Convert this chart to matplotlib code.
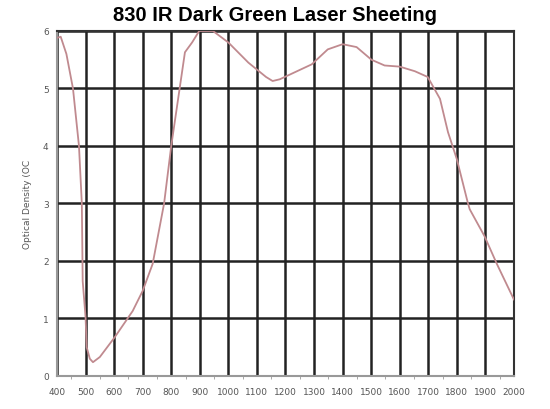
import matplotlib.pyplot as plt
import numpy as np

# wavelength (nm) and optical density
wavelength = [400, 413, 433, 456, 477, 487, 490, 500, 504, 515, 526, 550, 603,
              665, 700, 735, 775, 800, 848, 873, 898, 946, 1000, 1070, 1132,
              1155, 1180, 1292, 1348, 1400, 1449, 1501, 1547, 1600, 1653,
              1698, 1741, 1769, 1800, 1838, 1845, 1897, 1940, 1995, 2000]
density = [5.88, 5.9, 5.6, 5.0, 4.0, 3.0, 1.65, 1.03, 0.5, 0.3, 0.24, 0.33,
           0.68, 1.13, 1.48, 1.95, 3.0, 4.0, 5.63, 5.8, 6.0, 6.0, 5.8, 5.45,
           5.2, 5.13, 5.16, 5.42, 5.68, 5.77, 5.72, 5.5, 5.4, 5.38, 5.3, 5.2,
           4.82, 4.24, 3.77, 3.02, 2.9, 2.43, 1.95, 1.38, 1.33]

x_ticks = np.arange(400, 2001, 100)
y_ticks = np.arange(0, 7, 1)

fig = plt.figure(figsize=(5.5, 4.1), dpi=100)
ax = fig.add_axes([0.1036, 0.0805, 0.8309, 0.8415])

ax.plot(wavelength, density, color="#c08a8f", lw=1.3, zorder=3)

ax.set_xlim(400, 2000)
ax.set_ylim(0, 6)
ax.set_xticks(x_ticks)
ax.set_yticks(y_ticks)
ax.set_xticks(np.arange(450, 2000, 100), minor=True)
ax.grid(True, which="major", color="#222222", lw=1.8, zorder=1)

for side in ["left", "bottom"]:
    ax.spines[side].set_color("#999999")
    ax.spines[side].set_linewidth(1.5)
for side in ["top", "right"]:
    ax.spines[side].set_color("#333333")
    ax.spines[side].set_linewidth(1.5)

ax.tick_params(axis="both", which="major", length=0, labelsize=6.5,
               labelcolor="#555555", pad=6)
ax.tick_params(axis="x", which="minor", length=2, color="#999999")
ax.tick_params(axis="x", pad=8)

ax.set_ylabel("Optical Density (OC", fontsize=6.5, color="#555555", labelpad=8)
fig.suptitle("830 IR Dark Green Laser Sheeting", fontsize=14.5,
             fontweight="bold", family="Liberation Sans", y=0.985)

fig.savefig("out.png", dpi=100)
